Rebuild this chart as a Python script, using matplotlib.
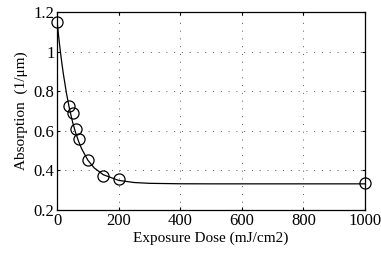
import matplotlib
matplotlib.use("Agg")
import matplotlib.pyplot as plt

plt.rcParams['font.family'] = ['Liberation Serif', 'DejaVu Serif']

# measured points
dose = [0, 40, 50, 60, 70, 100, 150, 200, 1000]
absorption = [1.15, 0.725, 0.69, 0.61, 0.557, 0.453, 0.372, 0.355, 0.337]

# fitted curve
curve_x = [0, 5, 10, 15, 20, 30, 40, 50, 60, 70, 80, 100, 120, 150, 200, 250, 300, 400, 500, 1000]
curve_y = [1.150, 1.075, 1.007, 0.945, 0.889, 0.792, 0.711, 0.645, 0.590, 0.545, 0.508,
           0.451, 0.413, 0.378, 0.3495, 0.3387, 0.3346, 0.3324, 0.332, 0.332]

xticks = [0, 200, 400, 600, 800, 1000]
yticks = [0.2, 0.4, 0.6, 0.8, 1.0, 1.2]
yticklabels = ['0.2', '0.4', '0.6', '0.8', '1', '1.2']

fig = plt.figure(figsize=(3.81, 2.57), dpi=100)
ax = fig.add_axes([0.150, 0.183, 0.808, 0.770])
ax.plot(curve_x, curve_y, color='black', lw=0.9)
ax.plot(dose, absorption, 'o', mfc='none', mec='black', ms=8, mew=0.9, clip_on=False)
ax.set_xlim(0, 1000)
ax.set_ylim(0.2, 1.2)
ax.set_xticks(xticks)
ax.set_yticks(yticks)
ax.set_yticklabels(yticklabels)
ax.grid(True, linestyle=(0, (1, 7)), color='#555555', lw=0.7)
ax.tick_params(direction='in', top=True, right=True, labelsize=12, length=2, pad=2)
for s in ax.spines.values():
    s.set_linewidth(0.9)
ax.set_xlabel('Exposure Dose (mJ/cm2)', fontsize=11, labelpad=2)
ax.set_ylabel('Absorption  (1/μm)', fontsize=11, labelpad=4)
fig.savefig('out.png', dpi=100)
